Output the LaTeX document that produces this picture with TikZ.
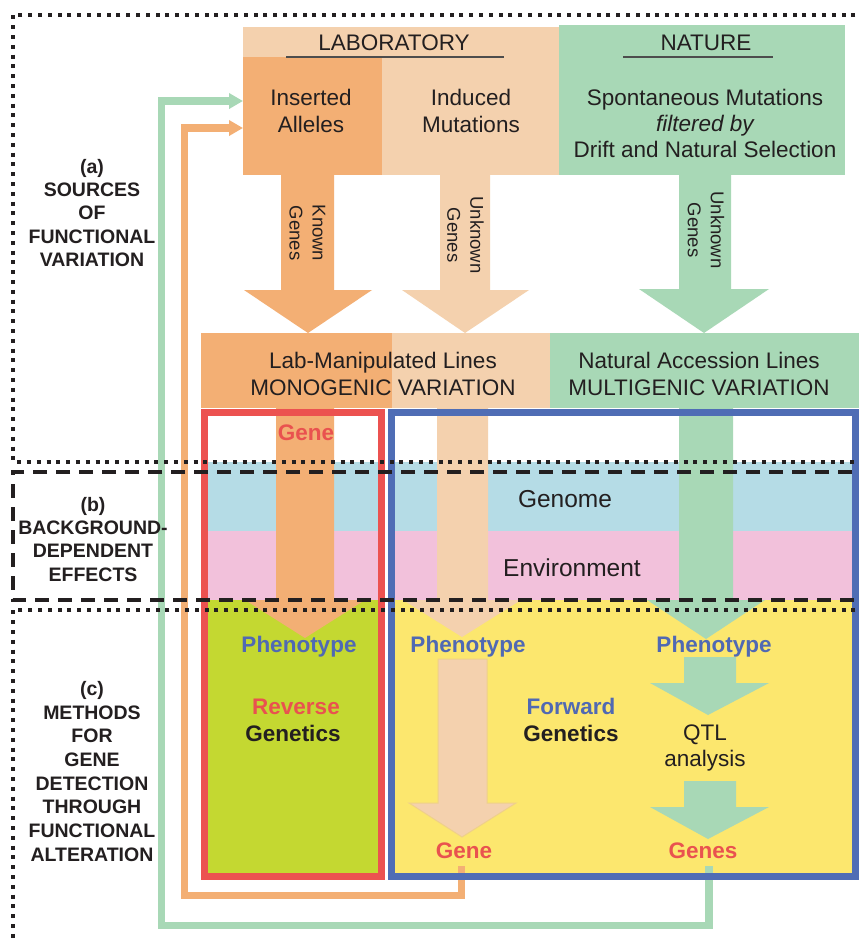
\documentclass[tikz,border=0pt]{standalone}
\usepackage{fontspec}
\setmainfont{Liberation Sans}
\usetikzlibrary{arrows.meta}
\definecolor{dorange}{HTML}{F3AF74}
\definecolor{peach}{HTML}{F4D1AE}
\definecolor{lgreen}{HTML}{A8D8B6}
\definecolor{bandblue}{HTML}{B5DCE6}
\definecolor{bandpink}{HTML}{F2C1DB}
\definecolor{yel}{HTML}{FCE76E}
\definecolor{ygreen}{HTML}{C4D831}
\definecolor{fred}{HTML}{EC5250}
\definecolor{fblue}{HTML}{4F6DB5}
\definecolor{tred}{HTML}{E9524F}
\definecolor{tblue}{HTML}{5069B3}
\definecolor{ink}{HTML}{231F20}
\definecolor{uline}{HTML}{4D4D4D}
\definecolor{peachedge}{HTML}{EFD08A}
\begin{document}
\begin{tikzpicture}[x=1pt,y=-1pt,
  txt/.style={inner sep=0pt, outer sep=0pt, text=ink, font=\fontsize{22.5}{27}\selectfont, anchor=base},
  btxt/.style={txt, font=\bfseries\fontsize{22.5}{27}\selectfont},
  bigtxt/.style={txt, font=\fontsize{24.5}{29}\selectfont},
  side/.style={txt, font=\bfseries\fontsize{19.5}{23.5}\selectfont},
  rot/.style={inner sep=0pt, outer sep=0pt, text=ink, font=\fontsize{18.5}{23}\selectfont, align=center, rotate=-90},
  dotline/.style={line width=4pt, dash pattern=on 4pt off 5.8pt},
  dashline/.style={line width=3.5pt, dash pattern=on 14pt off 9pt},
  feed/.style={line width=7.5pt, -{Triangle[length=14pt,width=15pt]}},
  frame/.style={line width=7.5pt},
  region/.style={inner sep=0pt, outer sep=0pt, anchor=north west, draw=none},
]
\useasboundingbox (0,0) rectangle (859,943);
\fill[white] (0,0) rectangle (859,943);
\clip (0,0) rectangle (859,943);

% ---------- top boxes ----------
\node[region, fill=peach, minimum width=316pt, minimum height=148pt] (labbox) at (243,27) {};
\node[region, fill=dorange, minimum width=139pt, minimum height=118pt] (ins) at (243,57) {};
\node[region, fill=lgreen, minimum width=286pt, minimum height=150pt] (nat) at (559,25) {};

\node[txt] (labt) at (394,50) {LABORATORY};
\node[txt] (natt) at (706,50) {NATURE};
\draw[uline, line width=2pt] (286,57) -- (504,57);
\draw[uline, line width=2pt] (623,57) -- (773,57);

\node[txt] (ins1) at (311,105) {Inserted};
\node[txt] (ins2) at (311,132.5) {Alleles};
\node[txt] (ind1) at (471,105) {Induced};
\node[txt] (ind2) at (471,132.5) {Mutations};
\node[txt] (sp1) at (705,105) {Spontaneous Mutations};
\node[txt] (sp2) at (705,131) {\itshape filtered by};
\node[txt] (sp3) at (705,157) {Drift and Natural Selection};

% ---------- upper block arrows ----------
\fill[dorange] (281,175) -- (334,175) -- (334,290) -- (372,290) -- (308,333) -- (244,290) -- (281,290) -- cycle;
\fill[peach] (440,175) -- (490,175) -- (490,290) -- (529,290) -- (465,333) -- (402,290) -- (440,290) -- cycle;
\fill[lgreen] (679,175) -- (731,175) -- (731,289) -- (769,289) -- (704,333) -- (639,289) -- (679,289) -- cycle;
\node[rot] (kg) at (307.5,233) {Known\\Genes};
\node[rot] (ug1) at (465.5,235) {Unknown\\Genes};
\node[rot] (ug2) at (706,230) {Unknown\\Genes};

% ---------- lines row ----------
\node[region, fill=dorange, minimum width=191pt, minimum height=75pt] (labl) at (201,333) {};
\node[region, fill=peach, minimum width=158pt, minimum height=75pt] (indl) at (392,333) {};
\node[region, fill=lgreen, minimum width=309pt, minimum height=75pt] (natl) at (550,333) {};
\node[txt] (lm1) at (383,368.3) {Lab-Manipulated Lines};
\node[txt] (lm2) at (383,395.7) {MONOGENIC VARIATION};
\node[txt] (na1) at (699,368.3) {Natural Accession Lines};
\node[txt] (na2) at (699,395.7) {MULTIGENIC VARIATION};

% ---------- bands ----------
\fill[bandblue] (201,462) rectangle (385,531);
\fill[bandblue] (388,462) rectangle (859,531);
\fill[bandpink] (201,531) rectangle (385,600);
\fill[bandpink] (388,531) rectangle (859,600);
\fill[ygreen] (201,600) rectangle (385,880);
\fill[yel] (388,600) rectangle (859,880);

% ---------- lower shafts ----------
\fill[dorange] (276,408) -- (334,408) -- (334,600) -- (365,600) -- (305,638) -- (245,600) -- (276,600) -- cycle;
\fill[peach] (437,408) -- (488,408) -- (488,600) -- (521,600) -- (462,637) -- (403,600) -- (437,600) -- cycle;
\fill[lgreen] (679,408) -- (733,408) -- (733,600) -- (765,600) -- (706,639) -- (647,600) -- (679,600) -- cycle;

\node[btxt, text=tred] (gtop) at (306,440) {Gene};
\node[bigtxt] (genome) at (565,507) {Genome};
\node[bigtxt] (env) at (572,576) {Environment};

% ---------- detection area ----------
\filldraw[fill=peach, draw=peachedge, line width=1pt] (438,659) -- (487,659) -- (487,803) -- (516,803) -- (462,837) -- (409,803) -- (438,803) -- cycle;
\fill[lgreen] (684,657) -- (736,657) -- (736,683) -- (769,683) -- (708,715) -- (650,683) -- (684,683) -- cycle;
\fill[lgreen] (684,781) -- (736,781) -- (736,807) -- (769,807) -- (708,839) -- (650,807) -- (684,807) -- cycle;

\node[btxt, text=tblue] (ph1) at (299,652.7) {Phenotype};
\node[btxt, text=tblue] (ph2) at (468,652.7) {Phenotype};
\node[btxt, text=tblue] (ph3) at (714,652.7) {Phenotype};
\node[btxt, text=tred] (rev) at (296,714) {Reverse};
\node[btxt] (rg) at (293,741.5) {Genetics};
\node[btxt, text=tblue] (fwd) at (571,714) {Forward};
\node[btxt] (fg) at (571,741.5) {Genetics};
\node[txt] (qtl) at (705,740) {QTL};
\node[txt] (ana) at (705,766) {analysis};
\node[btxt, text=tred] (geneA) at (464,858) {Gene};
\node[btxt, text=tred] (geneB) at (703,858) {Genes};

% ---------- feedback connectors ----------
\coordinate (oA) at (461.5,866);
\coordinate (oB) at (709,866);
\draw[feed, dorange] (oA) |- (184.7,895.5) |- ([yshift=-71pt]ins.north west);
\draw[feed, lgreen] (oB) |- (161.3,925.5) |- ([yshift=-44pt]ins.north west);

% ---------- frames ----------
\draw[frame, fred] (204.5,412.5) rectangle (381.5,876.5);
\draw[frame, fblue] (391.5,412.5) rectangle (855.5,876.5);

% ---------- side labels ----------
\foreach \t/\y [count=\i] in {(a)/173, SOURCES/196, OF/219.5, FUNCTIONAL/243, VARIATION/266.5}
  \node[side] (sa\i) at (92,\y) {\t};
\foreach \t/\y [count=\i] in {(b)/511, BACKGROUND-/534, DEPENDENT/557.5, EFFECTS/581}
  \node[side] (sb\i) at (93,\y) {\t};
\foreach \t/\y [count=\i] in {(c)/695, METHODS/719, FOR/742.5, GENE/766, DETECTION/790, THROUGH/813.5, FUNCTIONAL/837, ALTERATION/861}
  \node[side] (sc\i) at (92,\y) {\t};

% ---------- section borders ----------
\draw[dotline, ink] (875,15) -- (13,15) -- (13,462) -- (875,462);
\draw[dashline, ink] (875,472) -- (13,472) -- (13,600) -- (875,600);
\draw[dotline, ink] (875,610) -- (13,610) -- (13,955);
\end{tikzpicture}
\end{document}
